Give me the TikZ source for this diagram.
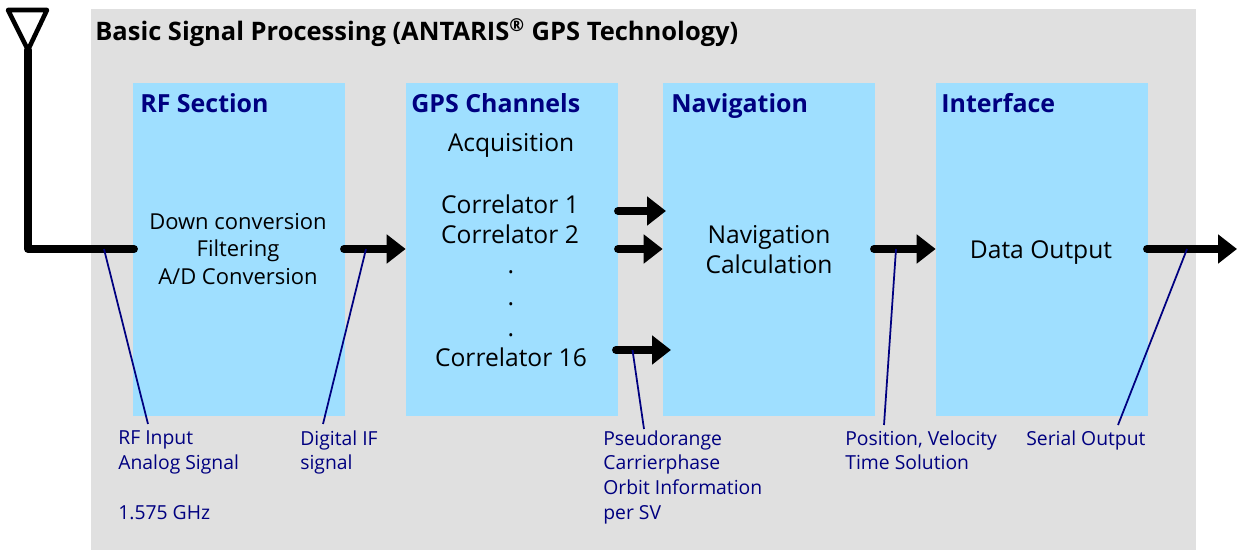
\documentclass[tikz,border=0pt]{standalone}
\usepackage{fontspec}
\setmainfont{Open Sans}
\usetikzlibrary{arrows.meta}
\definecolor{panelgray}{HTML}{E0E0E0}
\definecolor{blockblue}{HTML}{9FDFFF}
\definecolor{labelnavy}{HTML}{000080}
\tikzset{
  block/.style={fill=blockblue, minimum width=4.24cm, minimum height=6.66cm, inner sep=0pt},
  head/.style={anchor=base west, inner sep=0pt, text=labelnavy, font=\fontsize{14.2}{17}\selectfont\bfseries},
  body/.style={inner sep=0pt, align=center, font=\fontsize{14}{17}\selectfont},
  note/.style={anchor=north west, inner sep=0pt, align=left, text=labelnavy, font=\fontsize{11}{14.2}\selectfont},
  signal/.style={line width=4.5pt, line cap=round, -{Triangle[length=10.8pt,width=16pt]}},
  leader/.style={labelnavy, line width=1pt},
}
\begin{document}
\begin{tikzpicture}
\useasboundingbox (0,0) rectangle (24.74,11);
\fill[panelgray] (1.82,0) rectangle (23.92,10.82);
\node[anchor=base west, inner sep=0pt, font=\fontsize{14.5}{17}\selectfont\bfseries] (title) at (1.9,10.18)
  {Basic Signal Processing (ANTARIS\textsuperscript{®} GPS Technology)};

\node[block] (rf) at (4.78,6.01) {};
\node[block] (gps) at (10.24,6.01) {};
\node[block] (nav) at (15.38,6.01) {};
\node[block] (iface) at (20.84,6.01) {};

\node[head] (rfhead) at (2.8,8.74) {RF Section};
\node[head] (gpshead) at (8.22,8.74) {GPS Channels};
\node[head] (navhead) at (13.42,8.74) {Navigation};
\node[head] (ifacehead) at (18.82,8.74) {Interface};

\node[body, font=\fontsize{12.5}{15.4}\selectfont] (rftext) at (4.76,6.02) {Down conversion\\Filtering\\A/D Conversion};
\node[body] (acq) at (10.22,8.1) {Acquisition};
\node[body] (corr1) at (10.2,6.92) {Correlator 1};
\node[body] (corr2) at (10.2,6.32) {Correlator 2};
\foreach \y/\name in {5.56/dota, 4.92/dotb, 4.3/dotc}
  \node[body] (\name) at (10.22,\y) {.};
\node[body] (corr16) at (10.22,3.86) {Correlator 16};
\node[body] (navtext) at (15.38,6.0) {Navigation\\Calculation};
\node[body] (output) at (20.82,5.94) {Data Output};

% antenna
\coordinate (ant) at (0.56,10.0);
\coordinate (rfend) at (2.68,6.02);
\draw[line width=2.6pt, line join=round] (0.16,10.8) -- (0.94,10.8) -- (ant) -- cycle;
\draw[line width=4.5pt, line cap=round, line join=round] (ant) -- (ant |- rfend) -- (rfend);

% signal arrows
\coordinate (rfout) at (6.88,6.02);
\coordinate (navout) at (17.48,6.02);
\coordinate (ifout) at (22.94,6.02);
\coordinate (ifend) at (24.74,6.02);
\coordinate (ca) at (12.36,6.78);
\coordinate (cb) at (12.36,6.02);
\coordinate (cc) at (12.32,4);
\coordinate (cae) at (13.32,6.78);
\coordinate (cce) at (13.42,4);
\draw[signal] (rfout) -- (gps.west |- rfout);
\draw[signal] (ca) -- (cae);
\draw[signal] (cb) -- (nav.west |- cb);
\draw[signal] (cc) -- (cce);
\draw[signal] (navout) -- (iface.west |- navout);
\draw[signal] (ifout) -- (ifend);

% labels below the blocks
\node[note] (rfnote) at (2.36,2.4) {RF Input\\Analog Signal\\[14.2pt]1.575 GHz};
\node[note] (ifnote) at (6.0,2.4) {Digital IF\\signal};
\node[note] (prnote) at (12.06,2.4) {Pseudorange\\Carrierphase\\Orbit Information\\per SV};
\node[note] (pvtnote) at (16.9,2.4) {Position, Velocity\\Time Solution};
\node[note] (sernote) at (20.52,2.4) {Serial Output};

% leaders
\coordinate (rfa) at (2.08,6.02);
\coordinate (rfb) at (2.96,2.52);
\coordinate (ifa) at (7.32,6.02);
\coordinate (ifb) at (6.46,2.52);
\coordinate (pra) at (12.65,4);
\coordinate (prb) at (12.88,2.42);
\coordinate (pvta) at (17.92,6.02);
\coordinate (pvtb) at (17.68,2.5);
\coordinate (sera) at (23.74,6.02);
\coordinate (serb) at (22.36,2.5);
\foreach \a/\b in {rfa/rfb, ifa/ifb, pra/prb, pvta/pvtb, sera/serb}
  \draw[leader] (\a) -- (\b);
\end{tikzpicture}
\end{document}
